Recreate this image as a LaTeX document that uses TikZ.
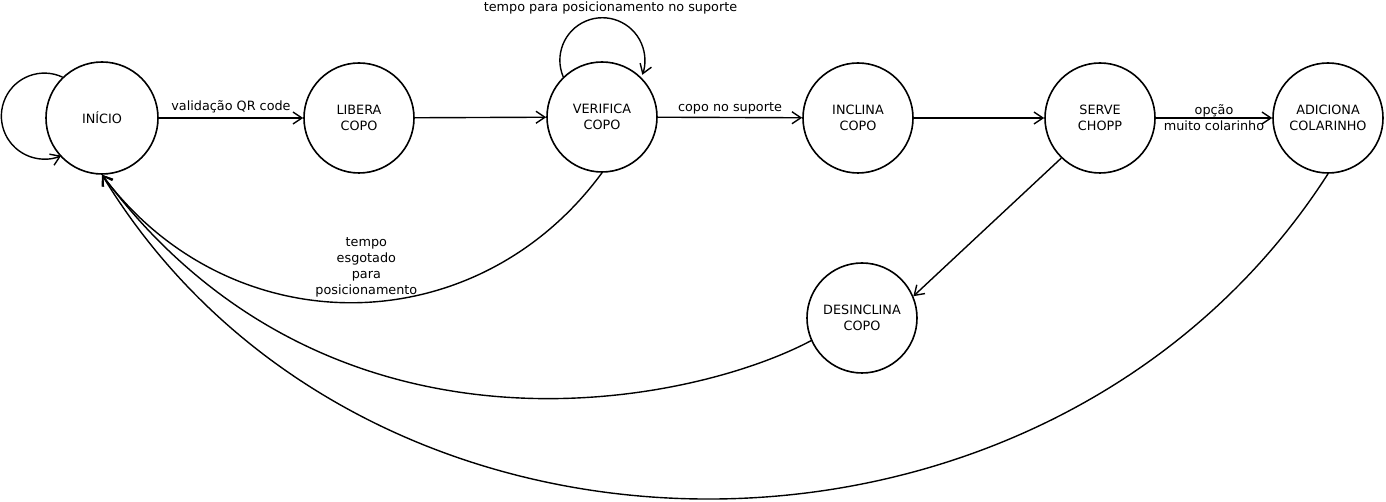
\documentclass[tikz,border=0pt]{standalone}
\usepackage{fontspec}
\setmainfont{DejaVu Sans}
\usetikzlibrary{arrows.meta}
\newcommand\dfont{\fontsize{12.8}{16}\selectfont}
\begin{document}
\begin{tikzpicture}[x=1pt,y=1pt,
  state/.style={circle, draw, line width=1.6pt, minimum size=110pt, inner sep=0pt, align=center, font=\dfont},
  edge/.style={line width=1.4pt, -{Straight Barb[length=9pt,width=12pt]}},
  lbl/.style={font=\dfont, align=center, inner sep=2pt}]
\useasboundingbox (0,0) rectangle (1386,502);
\node[state, minimum size=112pt] (inicio) at (102,384) {INÍCIO};
\node[state] (libera) at (359,384) {LIBERA\\COPO};
\node[state] (verifica) at (602,385) {VERIFICA\\COPO};
\node[state] (inclina) at (858,384) {INCLINA\\COPO};
\node[state] (serve) at (1100,384) {SERVE\\CHOPP};
\node[state] (adiciona) at (1328,384) {ADICIONA\\COLARINHO};
\node[state] (desinclina) at (862,184) {DESINCLINA\\COPO};
\node[lbl] (looplbl) at (610.5,494) {tempo para posicionamento no suporte};

\draw[edge] (inicio) -- node[lbl, above=2pt] {validação QR code} (libera);
\draw[edge] (libera) -- (verifica);
\draw[edge] (verifica) -- node[lbl, above=1pt] {copo no suporte} (inclina);
\draw[edge] (inclina) -- (serve);
\draw[edge] (serve) -- node[lbl] {opção\\muito colarinho} (adiciona);
\draw[edge] (serve.226) -- (desinclina.23);

\draw[edge] (inicio.134) arc[start angle=65, end angle=293, radius=43];
\draw[edge] (verifica.134) arc[start angle=203, end angle=-20, radius=42.5];

\draw[edge] (verifica.south) .. controls (475,156.5) and (230,156.5) .. node[lbl, pos=0.5, xshift=14pt, yshift=35pt] {tempo\\esgotado\\para\\posicionamento} (inicio.south);
\draw[edge] (desinclina.204) .. controls (690,97) and (330,22) .. (inicio.south);
\draw[edge] (adiciona.south) .. controls (1050,-105) and (365,-105) .. (inicio.south);
\end{tikzpicture}
\end{document}
